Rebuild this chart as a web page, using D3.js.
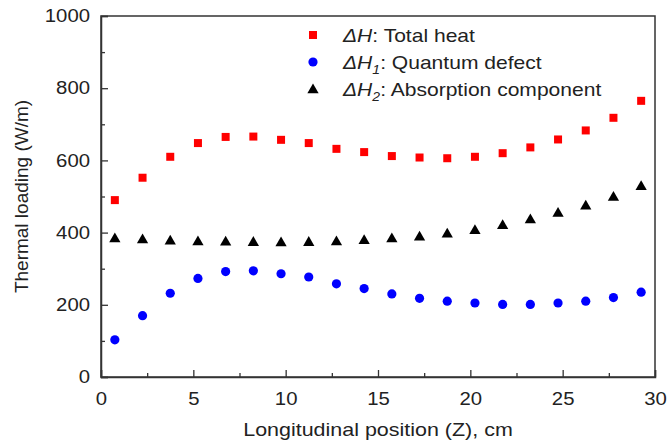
<!DOCTYPE html>
<html>
<head>
<meta charset="utf-8">
<script src="https://cdn.jsdelivr.net/npm/d3@7"></script>
<style>
  body { margin: 0; background: #fff; }
  text { font-family: "Liberation Sans", Arial, sans-serif; fill: #222; }
</style>
</head>
<body>
<svg id="chart" width="667" height="444"></svg>
<script>
// positions along the rod (cm)
const zPos = [0.75, 2.25, 3.75, 5.25, 6.75, 8.25, 9.75, 11.25, 12.75, 14.25,
              15.75, 17.25, 18.75, 20.25, 21.75, 23.25, 24.75, 26.25, 27.75, 29.25];
const totalHeat = [490, 552, 610, 648, 665, 666, 657, 648, 632, 623,
                   612, 608, 606, 610, 620, 636, 658, 683, 718, 765];
const quantumDefect = [103, 170, 232, 273, 292, 294, 286, 277, 258, 245,
                       230, 218, 210, 205, 201, 201, 205, 210, 220, 235];
const absorption = [385, 382, 379, 377, 376, 375, 374, 375, 377, 380,
                    385, 390, 398, 408, 422, 438, 456, 476, 500, 530];
const xTicks = [0, 5, 10, 15, 20, 25, 30];
const yTicks = [0, 200, 400, 600, 800, 1000];

const svg = d3.select('#chart');
const plot = {left: 101, right: 655, top: 16, bottom: 377};
// the original figure is a bit wider than tall, text looks stretched sideways
const stretch = 1.13;

let x = d3.scaleLinear().domain([0, 30]).range([plot.left, plot.right]);
let y = d3.scaleLinear().domain([0, 1000]).range([plot.bottom, plot.top]);

// frame
svg.append('rect')
    .attr('x', plot.left).attr('y', plot.top)
    .attr('width', plot.right - plot.left)
    .attr('height', plot.bottom - plot.top)
    .attr('fill', 'none').attr('stroke', '#333').attr('stroke-width', 1.5);

// x axis, ticks point inward
svg.append('g')
    .attr('transform', 'translate(0,' + plot.bottom + ')')
    .call(d3.axisBottom(x).tickValues(xTicks).tickSize(-7).tickPadding(15).tickFormat(d3.format('d')))
    .selectAll('.tick text')
    .attr('transform', 'scale(' + stretch + ',1)');
svg.append('g')
    .attr('transform', 'translate(0,' + plot.bottom + ')')
    .call(d3.axisBottom(x).tickValues(d3.range(2.5, 30, 5)).tickSize(-4).tickFormat(''))
    .call(g => g.select('.domain').remove());

svg.append('g')
    .attr('transform', 'translate(' + plot.left + ',0)')
    .call(d3.axisLeft(y).tickValues(yTicks).tickSize(-7).tickPadding(11).tickFormat(d3.format('d')))
    .selectAll('.tick text')
    .attr('x', -11 / stretch)
    .attr('transform', 'scale(' + stretch + ',1)');
svg.append('g')
    .attr('transform', 'translate(' + plot.left + ',0)')
    .call(d3.axisLeft(y).tickValues(d3.range(100, 1000, 200)).tickSize(-4).tickFormat(''))
    .call(g => g.select('.domain').remove());

svg.selectAll('.domain').attr('stroke', '#333').attr('stroke-width', 1.5);
svg.selectAll('.tick line').attr('stroke', '#333').attr('stroke-width', 1.3);
svg.selectAll('.tick text')
    .style('font-family', '"Liberation Sans", Arial, sans-serif')
    .style('font-size', '18px').attr('fill', '#222');

// axis titles
svg.append('text')
    .attr('transform', 'translate(' + ((plot.left + plot.right) / 2) + ',436) scale(' + stretch + ',1)')
    .attr('text-anchor', 'middle').style('font-size', '19px')
    .text('Longitudinal position (Z), cm');
svg.append('text')
    .attr('transform', 'translate(28,' + ((plot.top + plot.bottom) / 2) + ') rotate(-90)')
    .attr('text-anchor', 'middle').style('font-size', '19px')
    .text('Thermal loading (W/m)');

// markers
const triangle = d3.symbol().type(d3.symbolTriangle).size(55);

svg.append('g').selectAll('rect')
    .data(zPos.map((z, i) => [z, totalHeat[i]]))
    .enter().append('rect')
    .attr('x', d => x(d[0]) - 4).attr('y', d => y(d[1]) - 4)
    .attr('width', 8).attr('height', 8)
    .attr('fill', '#ff0000');

svg.append('g').selectAll('circle')
    .data(zPos.map((z, i) => [z, quantumDefect[i]]))
    .enter().append('circle')
    .attr('cx', d => x(d[0])).attr('cy', d => y(d[1]))
    .attr('r', 4.6)
    .attr('fill', '#0000ff');

svg.append('g').selectAll('path')
    .data(zPos.map((z, i) => [z, absorption[i]]))
    .enter().append('path')
    .attr('d', triangle)
    .attr('transform', d => 'translate(' + x(d[0]) + ',' + (y(d[1]) + 1) + ')')
    .attr('fill', '#000');

// legend
const legendItems = [
    {kind: 'square', sub: '', label: ': Total heat'},
    {kind: 'circle', sub: '1', label: ': Quantum defect'},
    {kind: 'triangle', sub: '2', label: ': Absorption component'}
];
let legend = svg.append('g');
legendItems.forEach((item, i) => {
    let cy = 35 + i * 27;
    let mx = 313;
    if (item.kind == 'square')
        legend.append('rect').attr('x', mx - 4).attr('y', cy - 4).attr('width', 8).attr('height', 8).attr('fill', '#ff0000');
    else if (item.kind == 'circle')
        legend.append('circle').attr('cx', mx).attr('cy', cy).attr('r', 4.6).attr('fill', '#0000ff');
    else
        legend.append('path').attr('d', triangle).attr('transform', 'translate(' + mx + ',' + (cy + 1) + ')').attr('fill', '#000');

    let t = legend.append('text')
        .attr('transform', 'translate(343,' + (cy + 7) + ') scale(1.17,1)')
        .style('font-size', '18px');
    t.append('tspan').style('font-style', 'italic').text('\u0394H');
    if (item.sub)
        t.append('tspan').style('font-style', 'italic').style('font-size', '12px').attr('dy', 5).text(item.sub);
    t.append('tspan').attr('dy', item.sub ? -5 : 0).text(item.label);
});
</script>
</body>
</html>
